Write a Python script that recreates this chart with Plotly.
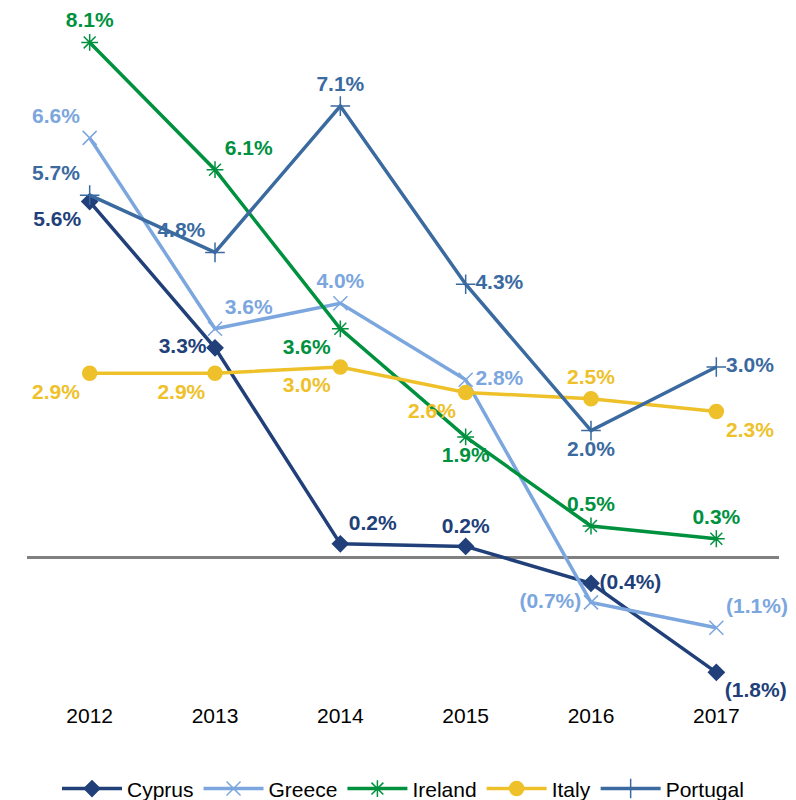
import plotly.graph_objects as go

years = ["2012", "2013", "2014", "2015", "2016", "2017"]
cyprus = [5.6, 3.3, 0.22, 0.18, -0.4, -1.8]
greece = [6.6, 3.6, 4.0, 2.8, -0.7, -1.1]
ireland = [8.1, 6.1, 3.6, 1.9, 0.5, 0.3]
italy = [2.9, 2.9, 3.0, 2.6, 2.5, 2.3]
portugal = [5.7, 4.8, 7.1, 4.3, 2.0, 3.0]


def fmt(v):
    s = f"{abs(v):.1f}%"
    return f"<b>({s})</b>" if v < 0 else f"<b>{s}</b>"


series = [
    dict(name="Cyprus", y=cyprus, color="#21407A", symbol="diamond", size=12,
         pos=["bottom left", "middle left", "top right", "top center", "middle right", "bottom right"]),
    dict(name="Greece", y=greece, color="#7BA6DE", symbol="x-thin-open", size=14,
         pos=["top left", "top right", "top center", "middle right", "middle left", "top right"]),
    dict(name="Ireland", y=ireland, color="#00913F", symbol="asterisk-open", size=14,
         pos=["top center", "top right", "bottom left", "bottom center", "top center", "top center"]),
    dict(name="Italy", y=italy, color="#EEC12A", symbol="circle", size=14,
         pos=["bottom left", "bottom left", "bottom left", "bottom left", "top center", "bottom right"]),
    dict(name="Portugal", y=portugal, color="#3A6A9F", symbol="cross-thin-open", size=14,
         pos=["top left", "top left", "top center", "middle right", "bottom center", "middle right"]),
]

fig = go.Figure()
for s in series:
    fig.add_trace(go.Scatter(
        x=years, y=s["y"], name=s["name"], mode="lines+markers+text",
        line=dict(color=s["color"], width=3.5),
        marker=dict(symbol=s["symbol"], size=s["size"], color=s["color"],
                    line=dict(color=s["color"], width=1.5)),
        text=[fmt(v) for v in s["y"]], textposition=s["pos"],
        textfont=dict(color=s["color"], size=21, family="Liberation Sans"),
        cliponaxis=False,
    ))

fig.update_layout(
    width=788, height=792,
    margin=dict(l=19, r=17, t=9, b=99),
    paper_bgcolor="white", plot_bgcolor="white",
    font=dict(family="Liberation Sans", size=21, color="black"),
    showlegend=True,
    legend=dict(orientation="h", x=0.5, xanchor="center", yref="container",
                y=0.014, yanchor="middle", font=dict(size=21, color="black"),
                itemwidth=60, tracegroupgap=0),
    xaxis=dict(type="category", showgrid=False, showline=False, ticks="",
               tickfont=dict(size=21, color="black"), range=[-0.5, 5.5]),
    yaxis=dict(range=[-2.25, 8.5], showgrid=False, showticklabels=False,
               zeroline=True, zerolinecolor="#808080", zerolinewidth=3, ticks=""),
)

fig.write_html("out.html")
